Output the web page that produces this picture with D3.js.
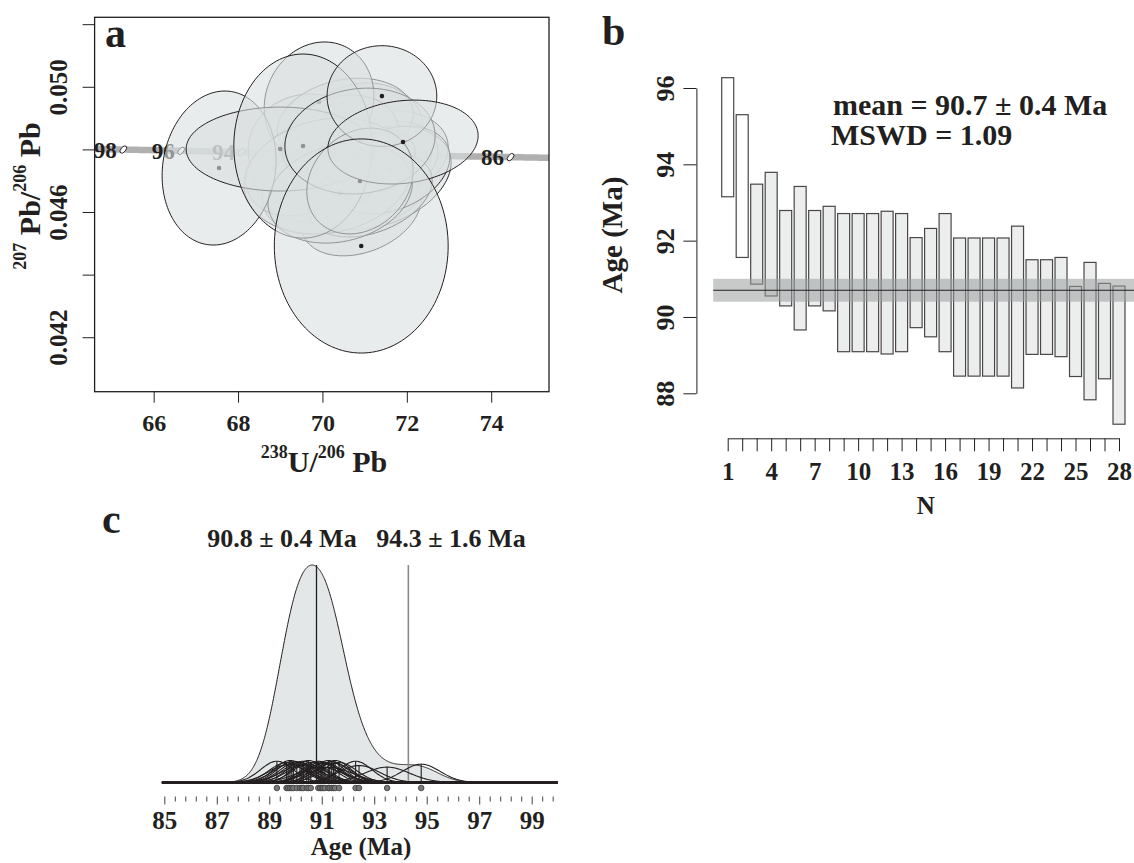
<!DOCTYPE html>
<html>
<head>
<meta charset="utf-8">
<script src="https://cdn.jsdelivr.net/npm/d3@7"></script>
<style>
  body { margin: 0; background: #fff; }
  svg { display: block; font-family: "Liberation Serif", "Times New Roman", serif; font-weight: bold; }
</style>
</head>
<body>
<svg id="chart" width="1134" height="863"></svg>
<script>
// ---------------- data: panel a (Tera-Wasserburg concordia) ----------------
// error ellipses: centre (238U/206Pb, 207Pb/206Pb), half-widths and correlation
const ellX   = [70.66, 70.66, 70.92, 70.92, 70.92, 71.41, 71.41, 70.18, 69.71, 70.54, 71.25, 69.99, 69.47, 71.01, 70.42, 71.13, 71.60, 69.92, 70.13, 70.42, 67.55, 69.00, 69.54, 70.89, 70.89, 71.41, 71.91, 70.92];
const ellY   = [0.047181, 0.047979, 0.046000, 0.046958, 0.048522, 0.047788, 0.047628, 0.047405, 0.047979, 0.048873, 0.047085, 0.046766, 0.047277, 0.047500, 0.048298, 0.046543, 0.047341, 0.049512, 0.047149, 0.046607, 0.047405, 0.048011, 0.048107, 0.048267, 0.046990, 0.049703, 0.048235, 0.044915];
const ellSx  = [1.52, 1.90, 1.42, 1.66, 1.47, 1.57, 1.33, 1.80, 1.47, 1.61, 1.80, 1.42, 1.28, 1.19, 1.38, 1.47, 1.42, 1.30, 1.99, 1.71, 1.35, 2.23, 1.64, 1.78, 1.26, 1.30, 1.78, 2.06];
const ellSy  = [0.00160, 0.00153, 0.00140, 0.00153, 0.00160, 0.00144, 0.00128, 0.00176, 0.00179, 0.00140, 0.00166, 0.00147, 0.00140, 0.00121, 0.00144, 0.00134, 0.00140, 0.00192, 0.00185, 0.00160, 0.00246, 0.00134, 0.00294, 0.00169, 0.00169, 0.00161, 0.00134, 0.00342];
const ellRho = [0.25, 0.10, 0.30, 0.20, 0.10, 0.20, 0.25, 0.15, 0.00, 0.20, 0.30, 0.20, 0.20, 0.30, 0.20, 0.35, 0.30, 0.10, 0.15, 0.20, 0.10, 0.00, 0.00, 0.10, 0.20, 0.00, 0.15, 0.00];
const concAges = [86, 88, 90, 92, 94, 96, 98];          // Ma, ticks along the concordia
const aTicksX  = [66, 68, 70, 72, 74];
const aTicksY  = [0.042, 0.044, 0.046, 0.048, 0.050, 0.052];
const aLabelsY = [0.042, 0.046, 0.050];

// ---------------- data: panel b (weighted mean) ----------------
const spotN    = d3.range(1, 29);
const spotAge  = [94.71, 93.43, 92.17, 92.17, 91.54, 91.54, 91.54, 91.53, 90.90, 90.90, 90.90, 90.90, 90.90, 90.90, 90.90, 90.90, 90.26, 90.26, 90.26, 90.26, 90.26, 90.26, 90.26, 90.26, 89.62, 89.63, 89.63, 89.00];
const spotErr  = [1.56, 1.87, 1.31, 1.62, 1.25, 1.88, 1.25, 1.37, 1.81, 1.81, 1.81, 1.87, 1.81, 1.18, 1.42, 1.81, 1.81, 1.81, 1.81, 1.81, 2.12, 1.24, 1.24, 1.30, 1.18, 1.80, 1.25, 1.81];
const spotRejected = [1, 2];                           // not used in the mean
const meanAge  = 90.7, meanErr = 0.4, meanBand = 0.3, mswd = 1.09;
const bTicksY  = [88, 90, 92, 94, 96];
const bLabelsX = [1, 4, 7, 10, 13, 16, 19, 22, 25, 28];

// ---------------- data: panel c (probability density) ----------------
const cAges = [89.29, 89.66, 89.72, 89.79, 89.86, 89.92, 90.05, 90.17, 90.24, 90.30, 90.43, 90.50, 90.58,
               90.87, 90.94, 91.00, 91.05, 91.12, 91.25, 91.30, 91.38, 91.45, 91.51, 91.66,
               92.29, 92.42, 93.49, 94.79];
const cSig  = [0.62, 0.66, 0.74, 0.60, 0.70, 0.62, 0.64, 0.66, 0.78, 0.62, 0.72, 0.60, 0.66,
               0.62, 0.86, 0.64, 0.70, 0.66, 0.60, 0.88, 0.64, 0.68, 0.60, 0.66,
               0.62, 0.78, 0.86, 0.72];
const cPeaks   = [90.8, 94.3];
const cPeakErr = [0.4, 1.6];
const cTicksMajor = [85, 87, 89, 91, 93, 95, 97, 99];

// ---------------- helpers ----------------
const svg = d3.select("#chart");
const ink = "#231f20";

function styleAxis(g) {
  g.attr("font-family", null).attr("font-size", null);
  g.selectAll(".tick line").attr("stroke", ink);
  g.select(".domain").attr("stroke", ink);
  g.selectAll("text").attr("fill", ink);
}

// superscripted axis title: parts = [[text, isSup], ...]
function richTitle(g, parts, size, supSize, shift) {
  const t = g.append("text").attr("text-anchor", "middle").attr("fill", ink).style("font-size", size + "px");
  let up = false;
  parts.forEach(([s, sup]) => {
    const dy = sup && !up ? -shift : (!sup && up ? shift : 0);
    t.append("tspan").attr("dy", dy).style("font-size", (sup ? supSize : size) + "px").text(s);
    up = sup;
  });
  return t;
}

// ================= panel a =================
const xA = d3.scaleLinear().domain([64.6, 75.37]).range([94.6, 549]);
const yA = d3.scaleLinear().domain([0.04026, 0.05222]).range([391.7, 17.3]);
const gA = svg.append("g");

gA.append("clipPath").attr("id", "clipA").append("rect")
  .attr("x", xA.range()[0]).attr("y", yA.range()[1])
  .attr("width", xA.range()[1] - xA.range()[0]).attr("height", yA.range()[0] - yA.range()[1]);

// concordia curve (U decay constants)
const L238 = 1.55125e-10, L235 = 9.8485e-10, U85 = 137.818;
function conc(t) {
  const e8 = Math.exp(L238 * t * 1e6) - 1, e5 = Math.exp(L235 * t * 1e6) - 1;
  return [1 / e8, e5 / e8 / U85];
}
const plotA = gA.append("g").attr("clip-path", "url(#clipA)");
const lineA = d3.line().x(d => xA(d[0])).y(d => yA(d[1]));
plotA.append("path")
  .attr("d", lineA(d3.range(0, 170).map(i => conc(83 + i * 0.1))))
  .attr("fill", "none").attr("stroke", "#b0b0b0").attr("stroke-width", 6.5);

concAges.forEach(t => {
  const [u, p] = conc(t);
  const px = xA(u), py = yA(p);
  plotA.append("ellipse").attr("cx", px).attr("cy", py).attr("rx", 4.3).attr("ry", 2.4)
    .attr("transform", `rotate(-50,${px},${py})`)
    .attr("fill", "#fff").attr("stroke", ink).attr("stroke-width", 0.9);
  plotA.append("text").attr("x", px - 6.5).attr("y", py).attr("dy", "0.35em")
    .attr("text-anchor", "end").attr("fill", ink).style("font-size", "23px").text(t);
});

// error ellipses with their centres
ellX.forEach((cx, i) => {
  const r = ellRho[i], s = Math.sqrt(1 - r * r);
  const pts = d3.range(0, 145).map(k => {
    const a = 2 * Math.PI * k / 144;
    return [cx + ellSx[i] * Math.cos(a), ellY[i] + ellSy[i] * (r * Math.cos(a) + s * Math.sin(a))];
  });
  plotA.append("path").attr("d", lineA(pts) + "Z")
    .attr("fill", "rgb(219,223,223)").attr("fill-opacity", 0.6)
    .attr("stroke", ink).attr("stroke-width", 1);
  plotA.append("circle").attr("cx", xA(cx)).attr("cy", yA(ellY[i])).attr("r", 2.3).attr("fill", ink);
});

// frame and axes
gA.append("rect").attr("x", xA.range()[0]).attr("y", yA.range()[1])
  .attr("width", xA.range()[1] - xA.range()[0]).attr("height", yA.range()[0] - yA.range()[1])
  .attr("fill", "none").attr("stroke", ink).attr("stroke-width", 1.3);

const gAy = gA.append("g").attr("transform", `translate(${xA.range()[0]},0)`)
  .call(d3.axisLeft(yA).tickValues(aTicksY).tickSize(12).tickSizeOuter(0)
    .tickFormat(d => aLabelsY.includes(d) ? d3.format(".3f")(d) : ""));
gAy.select(".domain").remove();
styleAxis(gAy);
gAy.selectAll("text").attr("transform", "rotate(-90)").attr("x", 0).attr("y", -36)
  .attr("dy", "0.35em").attr("text-anchor", "middle").style("font-size", "25px");

const gAx = gA.append("g").attr("transform", `translate(0,${yA.range()[0]})`)
  .call(d3.axisBottom(xA).tickValues(aTicksX).tickSize(11).tickSizeOuter(0).tickFormat(d3.format("d")));
gAx.select(".domain").remove();
styleAxis(gAx);
gAx.selectAll("text").attr("y", 31).attr("dy", "0.35em").style("font-size", "24px");

richTitle(gA.append("g").attr("transform", "translate(324,472)"),
  [["238", true], ["U/", false], ["206", true], [" Pb", false]], 30, 18, 14);
richTitle(gA.append("g").attr("transform", "translate(40,196) rotate(-90)"),
  [["207", true], [" Pb/", false], ["206", true], [" Pb", false]], 30, 18, 14);

gA.append("text").attr("x", 105).attr("y", 47).attr("fill", ink).style("font-size", "42px").text("a");

// ================= panel b =================
const xB = d3.scaleLinear().domain([1, 28]).range([727.7, 1119]);
const yB = d3.scaleLinear().domain([88, 96]).range([393.3, 88]);
const gB = svg.append("g");
const barW = 12;

gB.selectAll("rect.bar").data(spotN).join("rect").attr("class", "bar")
  .attr("x", n => xB(n) - barW / 2).attr("width", barW)
  .attr("y", (n, i) => yB(spotAge[i] + spotErr[i]))
  .attr("height", (n, i) => yB(spotAge[i] - spotErr[i]) - yB(spotAge[i] + spotErr[i]))
  .attr("fill", n => spotRejected.includes(n) ? "#ffffff" : "#eceeee")
  .attr("stroke", "#4a4646").attr("stroke-width", 1.2);

gB.append("rect").attr("x", xB(0)).attr("width", xB(29.6) - xB(0))
  .attr("y", yB(meanAge + meanBand)).attr("height", yB(meanAge - meanBand) - yB(meanAge + meanBand))
  .attr("fill", "#9a9e9e").attr("fill-opacity", 0.55);
gB.append("line").attr("x1", xB(0)).attr("x2", xB(29.6))
  .attr("y1", yB(meanAge)).attr("y2", yB(meanAge)).attr("stroke", ink).attr("stroke-width", 1.1);

const gBy = gB.append("g").attr("transform", "translate(696.4,0)")
  .call(d3.axisLeft(yB).tickValues(bTicksY).tickSize(13).tickSizeOuter(0).tickFormat(d3.format("d")));
styleAxis(gBy);
gBy.selectAll("text").attr("transform", "rotate(-90)").attr("x", 0).attr("y", -32)
  .attr("dy", "0.35em").attr("text-anchor", "middle").style("font-size", "26px");

const gBx = gB.append("g").attr("transform", "translate(0,438.3)")
  .call(d3.axisBottom(xB).tickValues(spotN).tickSize(13).tickSizeOuter(0)
    .tickFormat(d => bLabelsX.includes(d) ? d : ""));
styleAxis(gBx);
gBx.selectAll("text").attr("y", 33).attr("dy", "0.35em").style("font-size", "25px");

gB.append("text").attr("x", 622).attr("y", 235).attr("transform", "rotate(-90,622,235)")
  .attr("text-anchor", "middle").attr("fill", ink).style("font-size", "29px").text("Age (Ma)");
gB.append("text").attr("x", 925.7).attr("y", 514).attr("text-anchor", "middle")
  .attr("fill", ink).style("font-size", "25px").text("N");
gB.append("text").attr("x", 833).attr("y", 115).attr("fill", ink).style("font-size", "30px")
  .text(`mean = ${meanAge.toFixed(1)} ± ${meanErr} Ma`);
gB.append("text").attr("x", 831).attr("y", 145).attr("fill", ink).style("font-size", "30px")
  .text(`MSWD = ${mswd.toFixed(2)}`);
gB.append("text").attr("x", 602).attr("y", 45).attr("fill", ink).style("font-size", "42px").text("b");

// ================= panel c =================
const xC = d3.scaleLinear().domain([85, 99]).range([164.3, 531.7]);
const baseY = 782.5;
const gC = svg.append("g");
const gauss = (x, m, s) => Math.exp(-(x - m) * (x - m) / (2 * s * s)) / (s * Math.sqrt(2 * Math.PI));

const grid = d3.range(0, 756).map(i => 84.9 + i * 0.02);
const sumPts = grid.map(x => [x, d3.sum(cAges, (m, i) => gauss(x, m, cSig[i]))]);
const ySum = d3.scaleLinear().domain([0, d3.max(sumPts, d => d[1])]).range([baseY, 565]);
const yInd = d3.scaleLinear().domain([0, gauss(0, 0, d3.min(cSig))]).range([baseY, 760.5]);

gC.append("path")
  .attr("d", d3.area().x(d => xC(d[0])).y0(baseY).y1(d => ySum(d[1]))(sumPts))
  .attr("fill", "#e4e7e7").attr("stroke", ink).attr("stroke-width", 1);

cPeaks.forEach((p, i) => {
  gC.append("line").attr("x1", xC(p)).attr("x2", xC(p)).attr("y1", baseY).attr("y2", 565)
    .attr("stroke", i === 0 ? ink : "#8a8a8a").attr("stroke-width", i === 0 ? 1.3 : 1.6);
});

const indLine = d3.line().x(d => xC(d[0])).y(d => yInd(d[1]));
cAges.forEach((m, i) => {
  const s = cSig[i];
  const pts = d3.range(0, 141).map(k => {
    const x = m - 3.5 * s + k * 7 * s / 140;
    return [x, gauss(x, m, s)];
  });
  gC.append("path").attr("d", indLine(pts)).attr("fill", "none").attr("stroke", ink).attr("stroke-width", 1.1);
  gC.append("line").attr("x1", xC(m)).attr("x2", xC(m)).attr("y1", baseY).attr("y2", yInd(gauss(m, m, s)))
    .attr("stroke", ink).attr("stroke-width", 1.1);
});

gC.append("line").attr("x1", xC(84.9)).attr("x2", xC(100)).attr("y1", baseY).attr("y2", baseY)
  .attr("stroke", ink).attr("stroke-width", 3);

gC.selectAll("circle.age").data(cAges).join("circle").attr("class", "age")
  .attr("cx", d => xC(d)).attr("cy", 788).attr("r", 2.8)
  .attr("fill", "#7a7a7a").attr("stroke", "#3a3a3a").attr("stroke-width", 0.8);

const cMinor = d3.range(0, 38).filter(i => i % 5 !== 0).map(i => 85 + i * 0.4);
const gCm = gC.append("g").attr("transform", "translate(0,796.5)")
  .call(d3.axisBottom(xC).tickValues(cMinor).tickSize(5).tickSizeOuter(0).tickFormat(""));
gCm.select(".domain").remove();
styleAxis(gCm);
gCm.selectAll(".tick line").attr("stroke", "#444");
const gCx = gC.append("g").attr("transform", "translate(0,796.5)")
  .call(d3.axisBottom(xC).tickValues(cTicksMajor).tickSize(8).tickSizeOuter(0).tickFormat(d3.format("d")));
gCx.select(".domain").remove();
styleAxis(gCx);
gCx.selectAll(".tick line").attr("stroke", "#444");
gCx.selectAll("text").attr("y", 23.5).attr("dy", "0.35em").style("font-size", "25px");

gC.append("text").attr("x", 361).attr("y", 855).attr("text-anchor", "middle")
  .attr("fill", ink).style("font-size", "25px").text("Age (Ma)");
gC.append("text").attr("x", 282).attr("y", 546.5).attr("text-anchor", "middle")
  .attr("fill", ink).style("font-size", "26px").text(`${cPeaks[0].toFixed(1)} ± ${cPeakErr[0]} Ma`);
gC.append("text").attr("x", 451).attr("y", 546.5).attr("text-anchor", "middle")
  .attr("fill", ink).style("font-size", "26px").text(`${cPeaks[1].toFixed(1)} ± ${cPeakErr[1]} Ma`);
gC.append("text").attr("x", 102).attr("y", 533).attr("fill", ink).style("font-size", "42px").text("c");
</script>
</body>
</html>
